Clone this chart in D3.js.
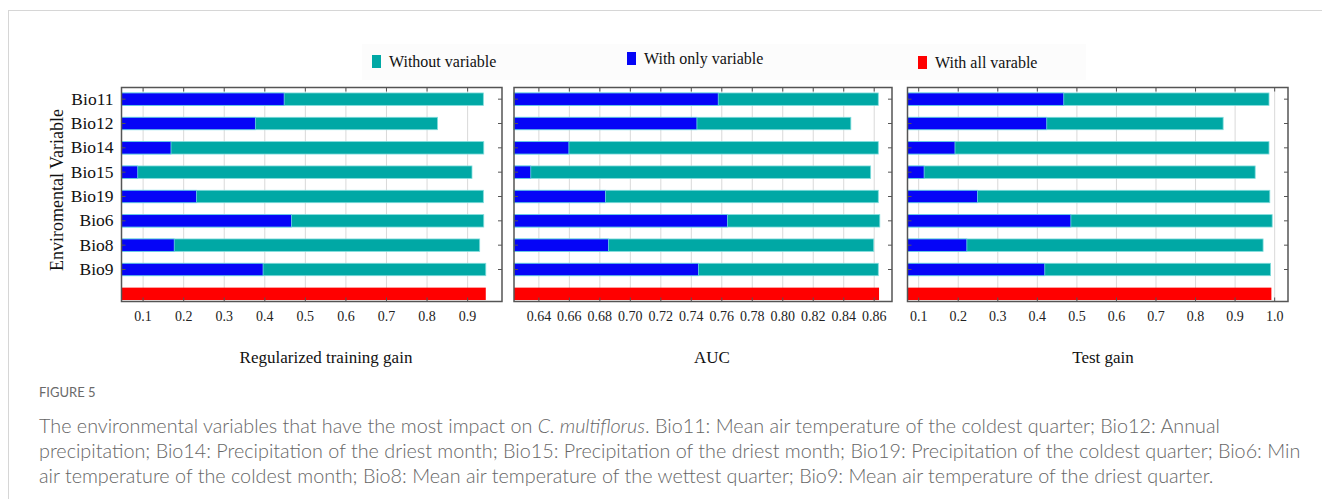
<!DOCTYPE html>
<html>
<head>
<meta charset="utf-8">
<script src="https://cdn.jsdelivr.net/npm/d3@7"></script>
<style>
  html, body { margin: 0; padding: 0; background: #fff; }
  svg { display: block; }
</style>
</head>
<body>
<svg id="chart" width="1322" height="499"></svg>
<script>
// Variables, top to bottom; the last row is the full model
const variables = ["Bio11", "Bio12", "Bio14", "Bio15", "Bio19", "Bio6", "Bio8", "Bio9"];
const rows = variables.concat(["All"]);

// Regularized training gain
const trainOnly    = [0.449, 0.378, 0.170, 0.088, 0.233, 0.467, 0.178, 0.397];
const trainWithout = [0.940, 0.827, 0.941, 0.912, 0.940, 0.941, 0.931, 0.946];
const trainAll     = 0.946;

// AUC
const aucOnly    = [0.758, 0.744, 0.660, 0.635, 0.684, 0.764, 0.686, 0.745];
const aucWithout = [0.863, 0.845, 0.863, 0.858, 0.863, 0.864, 0.860, 0.863];
const aucAll     = 0.8635;

// Test gain
const testOnly    = [0.468, 0.425, 0.193, 0.115, 0.250, 0.486, 0.223, 0.420];
const testWithout = [0.987, 0.871, 0.987, 0.952, 0.989, 0.995, 0.972, 0.991];
const testAll     = 0.993;

// Tick values and labels
const trainTicks = [0.1, 0.2, 0.3, 0.4, 0.5, 0.6, 0.7, 0.8, 0.9];
const trainTickLabels = ["0.1", "0.2", "0.3", "0.4", "0.5", "0.6", "0.7", "0.8", "0.9"];
const aucTicks = [0.64, 0.66, 0.68, 0.70, 0.72, 0.74, 0.76, 0.78, 0.80, 0.82, 0.84, 0.86];
const aucTickLabels = ["0.64", "0.66", "0.68", "0.70", "0.72", "0.74", "0.76", "0.78", "0.80", "0.82", "0.84", "0.86"];
const testTicks = [0.1, 0.2, 0.3, 0.4, 0.5, 0.6, 0.7, 0.8, 0.9, 1.0];
const testTickLabels = ["0.1", "0.2", "0.3", "0.4", "0.5", "0.6", "0.7", "0.8", "0.9", "1.0"];

const legendLabels = ["Without variable", "With only variable", "With all varable"];
const panelTitles = ["Regularized training gain", "AUC", "Test gain"];
const yTitle = "Enviromental Variable";

const COLORS = { without: "#00a8a5", only: "#0505f7", all: "#ff0000" };
const SERIF = "'Liberation Serif', 'Times New Roman', serif";

const svg = d3.select("#chart");

// outer figure frame
svg.append("rect")
  .attr("x", 8.5).attr("y", 10.5).attr("width", 1400).attr("height", 600)
  .attr("fill", "none").attr("stroke", "#d6d6d6").attr("stroke-width", 1);

const plotTop = 87.5, plotBottom = 301.5;
const y = d3.scaleBand().domain(rows).range([87, 306]).padding(0);
const barH = y.bandwidth() * 0.51;
const barY = d => y(d) + (y.bandwidth() - barH) / 2;

const panels = [
  { only: trainOnly, without: trainWithout, all: trainAll, ticks: trainTicks, labels: trainTickLabels,
    domain: [0.048, 0.986], range: [121.5, 502], title: panelTitles[0], titleX: 326 },
  { only: aucOnly, without: aucWithout, all: aucAll, ticks: aucTicks, labels: aucTickLabels,
    domain: [0.624, 0.872], range: [514, 892], title: panelTitles[1], titleX: 712 },
  { only: testOnly, without: testWithout, all: testAll, ticks: testTicks, labels: testTickLabels,
    domain: [0.073, 1.035], range: [907.5, 1288], title: panelTitles[2], titleX: 1103 }
];

panels.forEach((p, pi) => {
  const x = d3.scaleLinear().domain(p.domain).range(p.range);
  const g = svg.append("g");
  const fmt = d => p.labels[p.ticks.indexOf(d)];

  // vertical grid
  g.append("g")
    .attr("transform", `translate(0,${plotBottom})`)
    .call(d3.axisBottom(x).tickValues(p.ticks).tickSize(-(plotBottom - plotTop)).tickFormat(""))
    .call(a => a.select(".domain").remove())
    .call(a => a.selectAll(".tick line").attr("stroke", "#d9d9d9").attr("stroke-width", 1));

  const recs = variables.map((v, i) => ({ v, only: p.only[i], without: p.without[i] }));
  const x0 = p.domain[0];

  // "without variable" bars
  g.selectAll("rect.without").data(recs).join("rect")
    .attr("class", "without")
    .attr("x", x(x0)).attr("y", d => barY(d.v))
    .attr("width", d => x(d.without) - x(x0)).attr("height", barH)
    .attr("fill", COLORS.without).attr("stroke", "#7fdcdc").attr("stroke-width", 0.8);

  // "with only variable" bars
  g.selectAll("rect.only").data(recs).join("rect")
    .attr("class", "only")
    .attr("x", x(x0)).attr("y", d => barY(d.v))
    .attr("width", d => x(d.only) - x(x0)).attr("height", barH)
    .attr("fill", COLORS.only).attr("stroke", "#6fd6e6").attr("stroke-width", 0.8);

  // full model bar
  g.append("rect")
    .attr("x", x(x0)).attr("y", barY("All"))
    .attr("width", x(p.all) - x(x0)).attr("height", barH)
    .attr("fill", COLORS.all);

  // bottom axis with labels, inward ticks
  const bx = g.append("g")
    .attr("transform", `translate(0,${plotBottom})`)
    .call(d3.axisBottom(x).tickValues(p.ticks).tickSize(-4).tickPadding(10).tickFormat(fmt));
  bx.selectAll("text").attr("font-family", SERIF).attr("font-size", 14).attr("fill", "#222");
  bx.selectAll(".tick line").attr("stroke", "#555");

  // top axis, ticks only
  g.append("g")
    .attr("transform", `translate(0,${plotTop})`)
    .call(d3.axisTop(x).tickValues(p.ticks).tickSize(-4).tickFormat(""))
    .call(a => a.selectAll(".tick line").attr("stroke", "#555"));

  // left and right axes
  const ly = g.append("g")
    .attr("transform", `translate(${p.range[0]},0)`)
    .call(d3.axisLeft(y).tickValues(variables).tickSize(-4).tickPadding(8)
      .tickFormat(pi === 0 ? (d => d) : ""));
  ly.selectAll("text").attr("font-family", SERIF).attr("font-size", 17.5).attr("fill", "#111");
  ly.selectAll(".tick line").attr("stroke", "#555");
  g.append("g")
    .attr("transform", `translate(${p.range[1]},0)`)
    .call(d3.axisRight(y).tickValues(variables).tickSize(-4).tickFormat(""))
    .call(a => a.selectAll(".tick line").attr("stroke", "#555"));

  g.selectAll(".domain").attr("stroke", "none");

  // frame box
  g.append("rect")
    .attr("x", p.range[0]).attr("y", plotTop)
    .attr("width", p.range[1] - p.range[0]).attr("height", plotBottom - plotTop)
    .attr("fill", "none").attr("stroke", "#555").attr("stroke-width", 1.5);

  // panel title
  g.append("text")
    .attr("x", p.titleX).attr("y", 363)
    .attr("text-anchor", "middle")
    .attr("font-family", SERIF).attr("font-size", 17).attr("fill", "#111")
    .text(p.title);
});

// y axis title
svg.append("text")
  .attr("transform", "translate(63,190) rotate(-90)")
  .attr("text-anchor", "middle")
  .attr("font-family", SERIF).attr("font-size", 18).attr("fill", "#111")
  .text(yTitle);

// legend
svg.append("rect").attr("x", 362).attr("y", 44).attr("width", 724).attr("height", 36).attr("fill", "#fcfcfc");
const legendItems = [
  { label: legendLabels[0], color: COLORS.without, x: 372, y: 55 },
  { label: legendLabels[1], color: COLORS.only, x: 627, y: 52 },
  { label: legendLabels[2], color: COLORS.all, x: 918, y: 56 }
];
const lg = svg.append("g");
lg.selectAll("rect.key").data(legendItems).join("rect")
  .attr("class", "key")
  .attr("x", d => d.x).attr("y", d => d.y).attr("width", 9).attr("height", 13)
  .attr("fill", d => d.color);
lg.selectAll("text").data(legendItems).join("text")
  .attr("x", d => d.x + 17).attr("y", d => d.y + 12)
  .attr("font-family", SERIF).attr("font-size", 16).attr("fill", "#111")
  .text(d => d.label);

// caption
const SANS = "Lato, 'Open Sans', sans-serif";
svg.append("text")
  .attr("x", 39).attr("y", 397)
  .attr("font-family", SANS).attr("font-size", 13).attr("fill", "#6a6a6a")
  .text("FIGURE 5");

const captionLines = [
  [["The environmental variables that have the most impact on ", false], ["C. multiflorus", true],
   [". Bio11: Mean air temperature of the coldest quarter; Bio12: Annual", false]],
  [["precipitation; Bio14: Precipitation of the driest month; Bio15: Precipitation of the driest month; Bio19: Precipitation of the coldest quarter; Bio6: Min", false]],
  [["air temperature of the coldest month; Bio8: Mean air temperature of the wettest quarter; Bio9: Mean air temperature of the driest quarter.", false]]
];
const capG = svg.append("g")
  .attr("font-family", SANS).attr("font-weight", 300).attr("font-size", 16).attr("fill", "#666");
const lineNodes = captionLines.map((parts, i) => {
  const t = capG.append("text").attr("x", 39).attr("y", 433 + i * 25);
  parts.forEach(([s, it]) => t.append("tspan").attr("font-style", it ? "italic" : null).text(s));
  return t;
});
// size caption so its second line spans the text block width
const w = lineNodes[1].node().getComputedTextLength();
const fs = 16 * (1262 / w);
capG.attr("font-size", fs.toFixed(2));
</script>
</body>
</html>
